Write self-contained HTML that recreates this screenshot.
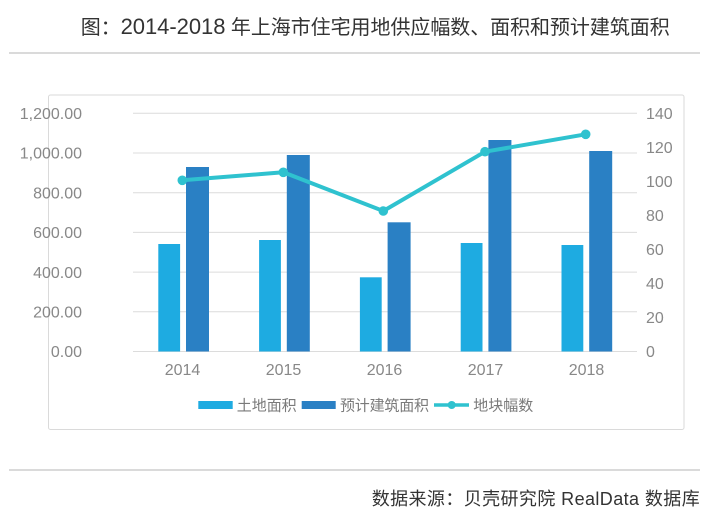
<!DOCTYPE html>
<html>
<head>
<meta charset="utf-8">
<style>
  html, body { margin:0; padding:0; background:#ffffff; }
  body { width:719px; height:513px; overflow:hidden; }
  svg { display:block; }
  .ax { font-family:"Liberation Sans","Noto Sans CJK SC",sans-serif; font-size:16px; fill:#888888; }
  .lg { font-family:"Liberation Sans","Noto Sans CJK SC",sans-serif; font-size:15px; fill:#7a7a7a; }
  .tt { font-family:"Liberation Sans","Noto Sans CJK SC",sans-serif; font-size:20px; fill:#333333; }
  .ft { font-family:"Liberation Sans","Noto Sans CJK SC",sans-serif; font-size:18px; fill:#333333; }
</style>
</head>
<body>
<svg width="719" height="513" viewBox="0 0 719 513" xmlns="http://www.w3.org/2000/svg">
  <rect x="0" y="0" width="719" height="513" fill="#ffffff"/>

  <!-- Title -->
  <text class="tt" x="80.7" y="34" textLength="589" lengthAdjust="spacing">图：<tspan font-size="22">2014-2018</tspan> 年上海市住宅用地供应幅数、面积和预计建筑面积</text>
  <line x1="9" y1="53" x2="700" y2="53" stroke="#c4c4c4" stroke-width="1.3"/>

  <!-- Chart box -->
  <rect x="48.5" y="95" width="635.5" height="334.5" rx="2" fill="#ffffff" stroke="#dadada" stroke-width="1"/>

  <!-- Gridlines -->
  <g stroke="#dcdcdc" stroke-width="1">
    <line x1="133" y1="113.3" x2="637" y2="113.3"/>
    <line x1="133" y1="153.0" x2="637" y2="153.0"/>
    <line x1="133" y1="192.7" x2="637" y2="192.7"/>
    <line x1="133" y1="232.4" x2="637" y2="232.4"/>
    <line x1="133" y1="272.1" x2="637" y2="272.1"/>
    <line x1="133" y1="311.8" x2="637" y2="311.8"/>
    <line x1="133" y1="351.5" x2="637" y2="351.5"/>
  </g>

  <!-- Left axis labels -->
  <g class="ax" text-anchor="end">
    <text x="82" y="119">1,200.00</text>
    <text x="82" y="158.7">1,000.00</text>
    <text x="82" y="198.4">800.00</text>
    <text x="82" y="238.1">600.00</text>
    <text x="82" y="277.8">400.00</text>
    <text x="82" y="317.5">200.00</text>
    <text x="82" y="357.2">0.00</text>
  </g>

  <!-- Right axis labels (0..140, 7 intervals) -->
  <g class="ax" text-anchor="start">
    <text x="646" y="119">140</text>
    <text x="646" y="153">120</text>
    <text x="646" y="187.1">100</text>
    <text x="646" y="221.1">80</text>
    <text x="646" y="255.1">60</text>
    <text x="646" y="289.2">40</text>
    <text x="646" y="323.2">20</text>
    <text x="646" y="357.2">0</text>
  </g>

  <!-- Bars: light (土地面积) -->
  <g fill="#1eabe1">
    <rect x="158.3" y="244" width="21.8" height="107.5"/>
    <rect x="259.1" y="240" width="21.8" height="111.5"/>
    <rect x="359.9" y="277.3" width="21.8" height="74.2"/>
    <rect x="460.7" y="243" width="21.8" height="108.5"/>
    <rect x="561.5" y="245" width="21.8" height="106.5"/>
  </g>
  <!-- Bars: dark (预计建筑面积) -->
  <g fill="#2a80c4">
    <rect x="186" y="167" width="23" height="184.5"/>
    <rect x="286.8" y="155" width="23" height="196.5"/>
    <rect x="387.6" y="222.3" width="23" height="129.2"/>
    <rect x="488.4" y="140" width="23" height="211.5"/>
    <rect x="589.2" y="151" width="23" height="200.5"/>
  </g>

  <!-- Line: 地块幅数 -->
  <polyline points="182.3,180.3 283.3,172.3 383.3,211 485,151.7 585.7,134.3" fill="none" stroke="#2fc2cf" stroke-width="4" stroke-linejoin="round"/>
  <g fill="#2fc2cf">
    <circle cx="182.3" cy="180.3" r="4.8"/>
    <circle cx="283.3" cy="172.3" r="4.8"/>
    <circle cx="383.3" cy="211" r="4.8"/>
    <circle cx="485" cy="151.7" r="4.8"/>
    <circle cx="585.7" cy="134.3" r="4.8"/>
  </g>

  <!-- X axis labels -->
  <g class="ax" text-anchor="middle">
    <text x="182.5" y="375">2014</text>
    <text x="283.5" y="375">2015</text>
    <text x="384.5" y="375">2016</text>
    <text x="485.5" y="375">2017</text>
    <text x="586.5" y="375">2018</text>
  </g>

  <!-- Legend -->
  <rect x="198.3" y="401" width="34.4" height="8" fill="#1eabe1"/>
  <text class="lg" x="236.7" y="410.5" textLength="60" lengthAdjust="spacing">土地面积</text>
  <rect x="301.7" y="401" width="34" height="8" fill="#2a80c4"/>
  <text class="lg" x="340" y="410.5" textLength="89" lengthAdjust="spacing">预计建筑面积</text>
  <line x1="434" y1="405" x2="469" y2="405" stroke="#2fc2cf" stroke-width="3.5"/>
  <circle cx="451.7" cy="405" r="4" fill="#2fc2cf"/>
  <text class="lg" x="473.3" y="410.5" textLength="60" lengthAdjust="spacing">地块幅数</text>

  <!-- Footer -->
  <line x1="9" y1="470" x2="700" y2="470" stroke="#c4c4c4" stroke-width="1.3"/>
  <text class="ft" x="371.7" y="505" textLength="328" lengthAdjust="spacing">数据来源：贝壳研究院 RealData 数据库</text>
</svg>
</body>
</html>
